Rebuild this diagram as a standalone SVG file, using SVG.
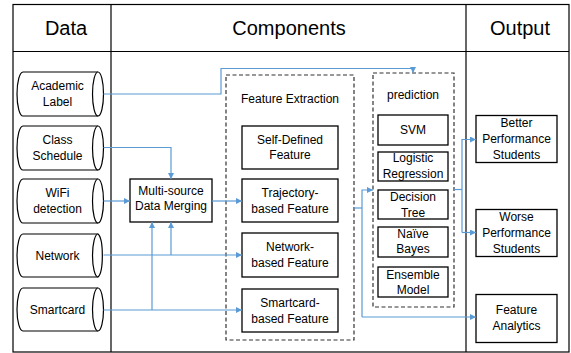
<svg xmlns="http://www.w3.org/2000/svg" width="571" height="353" viewBox="0 0 571 353">
<style>
text{font-family:"Liberation Sans",Arial,sans-serif;font-size:12px;fill:#000;text-anchor:middle}
.hd{font-size:20px}
.grid{fill:none;stroke:#000;stroke-width:1.2}
.box{fill:#fff;stroke:#000;stroke-width:1.3}
.dash{fill:none;stroke:#333;stroke-width:1.2;stroke-dasharray:4 2.5}
.cyl{fill:#fff;stroke:#000;stroke-width:1.2}
.cn{fill:none;stroke:#5B9BD5;stroke-width:1.2}
</style>
<defs>
<marker id="ah" markerUnits="userSpaceOnUse" markerWidth="7" markerHeight="7" refX="6" refY="3" orient="auto">
<path d="M0,0 L6,3 L0,6 z" fill="#5B9BD5"/>
</marker>
</defs>
<rect width="571" height="353" fill="#fff"/>
<g id="table">
<rect class="grid" x="13" y="4.5" width="556" height="347.5"/>
<line class="grid" x1="13" y1="51.5" x2="569" y2="51.5"/>
<line class="grid" x1="111" y1="4.5" x2="111" y2="352"/>
<line class="grid" x1="466" y1="4.5" x2="466" y2="352"/>
<text class="hd" x="66" y="35">Data</text>
<text class="hd" x="289" y="35">Components</text>
<text class="hd" x="520" y="35">Output</text>
</g>
<g id="academic-label">
<path class="cyl" d="M23,72 H98 A5.5,22 0 0 1 98,116 H23 A6,22 0 0 1 23,72 Z"/>
<path class="cyl" d="M98,116 A5.5,22 0 0 1 98,72" fill="none"/>
<text x="57.5" y="90">Academic</text><text x="57.5" y="106">Label</text>
</g>
<g id="class-schedule">
<path class="cyl" d="M23,126 H98 A5.5,22 0 0 1 98,170 H23 A6,22 0 0 1 23,126 Z"/>
<path class="cyl" d="M98,170 A5.5,22 0 0 1 98,126" fill="none"/>
<text x="57.5" y="144">Class</text><text x="57.5" y="160">Schedule</text>
</g>
<g id="wifi-detection">
<path class="cyl" d="M23,179 H98 A5.5,22 0 0 1 98,223 H23 A6,22 0 0 1 23,179 Z"/>
<path class="cyl" d="M98,223 A5.5,22 0 0 1 98,179" fill="none"/>
<text x="57.5" y="197">WiFi</text><text x="57.5" y="213">detection</text>
</g>
<g id="network">
<path class="cyl" d="M23,234 H98 A5.5,22 0 0 1 98,277 H23 A6,21.5 0 0 1 23,234 Z"/>
<path class="cyl" d="M98,277 A5.5,21.5 0 0 1 98,234" fill="none"/>
<text x="57.5" y="260">Network</text>
</g>
<g id="smartcard">
<path class="cyl" d="M23,288 H98 A5.5,21.5 0 0 1 98,331 H23 A6,21.5 0 0 1 23,288 Z"/>
<path class="cyl" d="M98,331 A5.5,21.5 0 0 1 98,288" fill="none"/>
<text x="57.5" y="314">Smartcard</text>
</g>
<g id="data-merging">
<rect class="box" x="130" y="179" width="82" height="43"/>
<text x="171" y="195">Multi-source</text><text x="171" y="210">Data Merging</text>
</g>
<g id="feature-extraction">
<rect class="dash" x="226" y="75" width="128" height="265"/>
<text x="290" y="103">Feature Extraction</text>
</g>
<g id="self-defined">
<rect class="box" x="242" y="126" width="96" height="43"/>
<text x="290" y="143.5">Self-Defined</text><text x="290" y="159">Feature</text>
</g>
<g id="trajectory">
<rect class="box" x="242" y="179" width="96" height="43"/>
<text x="290" y="197">Trajectory-</text><text x="290" y="213">based Feature</text>
</g>
<g id="network-feature">
<rect class="box" x="242" y="233" width="96" height="44"/>
<text x="290" y="251">Network-</text><text x="290" y="267">based Feature</text>
</g>
<g id="smartcard-feature">
<rect class="box" x="242" y="289" width="96" height="43"/>
<text x="290" y="307">Smartcard-</text><text x="290" y="323">based Feature</text>
</g>
<g id="prediction">
<rect class="dash" x="373" y="73" width="81" height="234"/>
<text x="413" y="99">prediction</text>
</g>
<g id="svm">
<rect class="box" x="378" y="115" width="70" height="30"/>
<text x="413" y="134">SVM</text>
</g>
<g id="logistic">
<rect class="box" x="378" y="152" width="70" height="29"/>
<text x="413" y="162">Logistic</text><text x="413" y="178">Regression</text>
</g>
<g id="decision-tree">
<rect class="box" x="378" y="190" width="70" height="29"/>
<text x="413" y="200.5">Decision</text><text x="413" y="216.5">Tree</text>
</g>
<g id="naive-bayes">
<rect class="box" x="378" y="227" width="70" height="30"/>
<text x="413" y="237.5">Naïve</text><text x="413" y="253">Bayes</text>
</g>
<g id="ensemble">
<rect class="box" x="378" y="267" width="70" height="30"/>
<text x="413" y="278.5">Ensemble</text><text x="413" y="294">Model</text>
</g>
<g id="better">
<rect class="box" x="476" y="115.5" width="81" height="47"/>
<text x="516.5" y="127">Better</text><text x="516.5" y="143">Performance</text><text x="516.5" y="159">Students</text>
</g>
<g id="worse">
<rect class="box" x="476" y="209.5" width="81" height="47"/>
<text x="516.5" y="221">Worse</text><text x="516.5" y="237">Performance</text><text x="516.5" y="253">Students</text>
</g>
<g id="feature-analytics">
<rect class="box" x="476" y="294.5" width="81" height="48"/>
<text x="516.5" y="313.5">Feature</text><text x="516.5" y="329.5">Analytics</text>
</g>
<g id="connectors">
<path class="cn" d="M103.5,94 H221 V68.5 H413 V73" marker-end="url(#ah)"/>
<path class="cn" d="M103.5,147.5 H171 V179" marker-end="url(#ah)"/>
<path class="cn" d="M103.5,201 H130" marker-end="url(#ah)"/>
<path class="cn" d="M103.5,255 H242" marker-end="url(#ah)"/>
<path class="cn" d="M171,255 V222" marker-end="url(#ah)"/>
<path class="cn" d="M103.5,310 H242" marker-end="url(#ah)"/>
<path class="cn" d="M152,310 V222" marker-end="url(#ah)"/>
<path class="cn" d="M212,201 H242" marker-end="url(#ah)"/>
<path class="cn" d="M354,208 H362"/>
<path class="cn" d="M362,317 V190 H373" marker-end="url(#ah)"/>
<path class="cn" d="M362,317 H476" marker-end="url(#ah)"/>
<path class="cn" d="M454,189.5 H462"/>
<path class="cn" d="M462,232.5 V139.5 H476" marker-end="url(#ah)"/>
<path class="cn" d="M462,232.5 H476" marker-end="url(#ah)"/>
</g>
</svg>
